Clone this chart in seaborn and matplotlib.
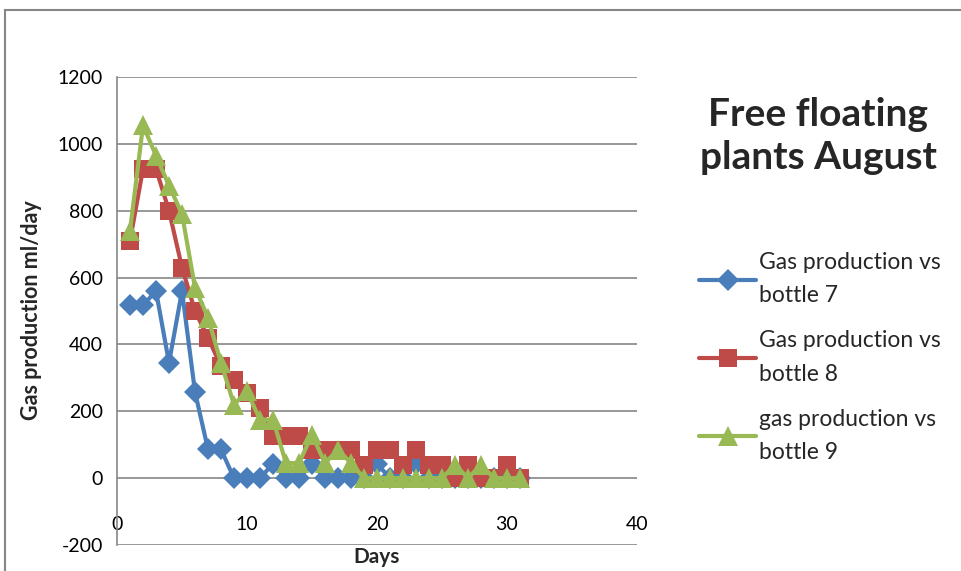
import matplotlib
matplotlib.use("Agg")
import matplotlib.pyplot as plt
import seaborn as sns
import pandas as pd
from matplotlib.patches import Rectangle

days = list(range(1, 32))
bottle7 = [517, 517, 560, 345, 560, 258, 86, 86, 0, 0, 0, 43, 0, 0, 43, 0, 0, 0, 0, 43,
           0, 0, 43, 0, 0, 0, 0, 0, 0, 0, 0]
bottle8 = [710, 925, 925, 800, 630, 500, 420, 335, 295, 255, 210, 125, 125, 125, 85, 85,
           85, 85, 40, 85, 85, 40, 85, 40, 40, 0, 40, 0, 0, 40, 0]
bottle9 = [740, 1055, 965, 875, 790, 570, 480, 345, 220, 260, 175, 175, 45, 45, 130, 45,
           85, 45, 0, 0, 0, 0, 0, 0, 0, 40, 0, 40, 0, 0, 0]
series_labels = ["Gas production vs\nbottle 7", "Gas production vs\nbottle 8",
                 "gas production vs\nbottle 9"]
x_ticks = [0, 10, 20, 30, 40]
y_ticks = [-200, 0, 200, 400, 600, 800, 1000, 1200]
title = "Free floating\nplants August"

sns.set_theme(style="white")
plt.rcParams['font.family'] = ['Lato', 'DejaVu Sans']
plt.rcParams['axes.unicode_minus'] = False

fig = plt.figure(figsize=(9.61, 5.71), dpi=100)
ax = fig.add_axes([117/961, 1-545/571, 520/961, 468/571])

colors = ["#4A7EBB", "#BE4B48", "#98B954"]
markers = ["D", "s", "^"]
msizes = [11, 13, 14]
for vals, lab, c, m, ms in zip([bottle7, bottle8, bottle9], series_labels, colors, markers, msizes):
    df = pd.DataFrame({"Days": days, "val": vals})
    sns.lineplot(data=df, x="Days", y="val", ax=ax, color=c, marker=m, markersize=ms,
                 markeredgewidth=0, linewidth=3, label=lab, clip_on=False)

ax.set_xlim(0, 40)
ax.set_ylim(-200, 1200)
ax.set_xticks(x_ticks)
ax.set_yticks(y_ticks)
ax.grid(axis="y", color="#868686", linewidth=1.2)
ax.grid(axis="x", visible=False)
for s in ["top", "right"]:
    ax.spines[s].set_visible(False)
ax.spines["left"].set_color("#868686")
ax.spines["left"].set_linewidth(1.2)
ax.spines["bottom"].set_position(("data", -100))
ax.spines["bottom"].set_visible(False)
ax.tick_params(axis="x", length=0, pad=3, labelsize=14, colors="black")
ax.tick_params(axis="y", length=0, pad=10, labelsize=14, colors="black")

ax.set_xlabel("Days", fontsize=15, fontweight="bold")
ax.set_ylabel("Gas production ml/day", fontsize=15.5, fontweight="bold")
ax.xaxis.set_label_coords(0.5, -0.005)
ax.yaxis.set_label_coords(-0.145, 0.502)

leg = ax.legend(loc="upper left", bbox_to_anchor=(690/961, 1-243/571),
                bbox_transform=fig.transFigure, frameon=False, fontsize=16.5,
                handlelength=2.5, labelspacing=1.05, handletextpad=0.1,
                borderaxespad=0)
for t in leg.get_texts():
    t.set_linespacing(1.72)

fig.text(818/961, 1-136/571, title, ha="center", va="center", fontsize=28,
         fontweight="bold", linespacing=1.3)

fig.patches.append(Rectangle((5/961, -0.1), 2.0, 1.1 - 10/571, transform=fig.transFigure,
                             fill=False, edgecolor="#868686", linewidth=1.5))

fig.savefig("out.png", dpi=100)
